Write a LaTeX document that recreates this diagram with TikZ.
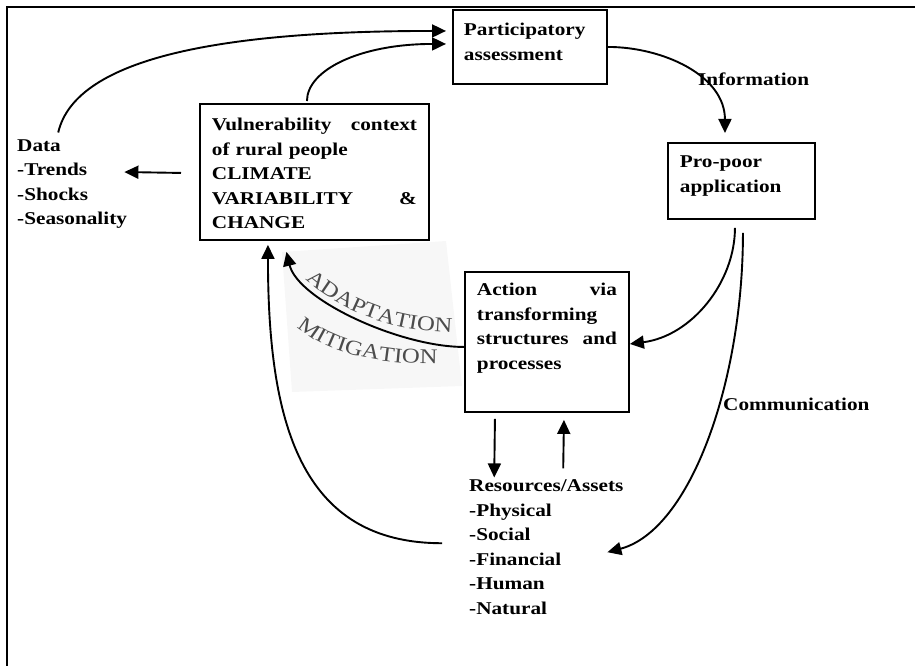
\documentclass[tikz,border=0pt]{standalone}
\usepackage{xcolor}
\usepackage{fontspec}
\setmainfont{Liberation Serif}[FakeStretch=1.18]
\usetikzlibrary{arrows.meta,positioning,decorations.text}

\newcommand\figfont{\fontsize{18}{24.5}\selectfont\bfseries}
\newcommand\bendfont{\fontsize{21}{21}\selectfont\mdseries}
\newcommand\fullline[2]{\leavevmode\hbox to #1{#2}}

\begin{document}
\begin{tikzpicture}[x=1pt, y=-1pt,
  box/.style={draw, line width=1.9pt, anchor=north west, align=left,
              font=\figfont, inner xsep=12pt, inner ysep=0pt},
  lbl/.style={font=\figfont, anchor=base west, inner sep=0pt, align=left},
  arr/.style={-{Triangle[length=14pt,width=13pt]}, line width=1.9pt},
  bendtxt/.style={decorate, decoration={text along path, text align=center,
              text color=black!70, text={|\bendfont|#1}}}
]
\useasboundingbox (0,0) rectangle (915,666);
\draw[line width=1.9pt] (915,7) -- (7,7) -- (7,666);

\node[box, inner xsep=11pt, text width=132pt, text height=26pt, text depth=48pt] (pa) at (452,9)
  {Participatory\\assessment};
\node[box, text width=205pt, text height=27pt, text depth=109pt] (vul) at (199,103)
  {\fullline{205pt}{Vulnerability\hfill context}\\of rural people\\CLIMATE\\
   \fullline{205pt}{VARIABILITY\hfill\&}\\CHANGE};
\node[box, text width=123pt, text height=25pt, text depth=51pt] (pp) at (667,142)
  {Pro-poor\\application};
\node[box, text width=140pt, text height=24pt, text depth=116pt] (act) at (464,271)
  {\fullline{140pt}{Action\hfill via}\\transforming\\\fullline{140pt}{structures\hfill and}\\processes};

\node[lbl, text width=110pt] (data) at (17,151.5) {Data\\-Trends\\-Shocks\\-Seasonality};
\node[lbl, text width=154pt] (res) at (469,491.5)
  {Resources/Assets\\-Physical\\-Social\\-Financial\\-Human\\-Natural};
\node[lbl] (info) at (698,86) {Information};
\node[lbl] (comm) at (723,410) {Communication};

% the pasted, slightly grey label strip
\fill[black!3] (282,252) -- (446,241) -- (462,386) -- (292,392) -- cycle;
\path[bendtxt=ADAPTATION] (298,272) .. controls (336,310) and (390,333) .. (462,333);
\path[bendtxt=MITIGATION] (290,320) .. controls (316,348) and (365,366) .. (447,364);

\draw[arr] ([xshift=-14pt,yshift=7pt]data.north) .. controls +(18,-77) and +(-216,0)
      .. ([xshift=-6pt,yshift=16pt]pa.west);
\draw[arr] ([xshift=-7.5pt,yshift=2pt]vul.north) .. controls +(0,-31) and +(-86,0)
      .. ([xshift=-6pt,yshift=3pt]pa.west);
\draw[arr] (pa.east) .. controls +(54,0) and +(0,-58) .. ([xshift=-16.5pt,yshift=9pt]pp.north);
\draw[arr] ([xshift=-6.5pt,yshift=-8pt]pp.south) .. controls +(0,54) and +(62,-8)
      .. ([yshift=-2pt]act.east);
\draw[arr] ([xshift=1.5pt,yshift=-13pt]pp.south) .. controls +(0,149) and +(83,-22)
      .. ([xshift=-16pt,yshift=-5.3pt]res.east);
\draw[arr] ([xshift=-52pt,yshift=-6pt]act.south) -- ([xshift=-52pt,yshift=2pt]res.north);
\draw[arr] ([xshift=17pt,yshift=11pt]res.north) -- ([xshift=17pt,yshift=-7pt]act.south);
\draw[arr] ([xshift=-18pt,yshift=-1pt]vul.west) -- ([xshift=-3pt,yshift=12.3pt]data.east);
% feedback to the vulnerability context
\draw[arr] ([xshift=-27pt,yshift=3.7pt]res.west) .. controls +(-142,0) and +(0,177)
      .. ([xshift=-46.5pt,yshift=-4pt]vul.south);
\draw[arr] ([yshift=-5pt]act.west) .. controls +(-64,0) and +(11.5,48)
      .. ([xshift=-28pt,yshift=-11pt]vul.south);
\end{tikzpicture}
\end{document}
